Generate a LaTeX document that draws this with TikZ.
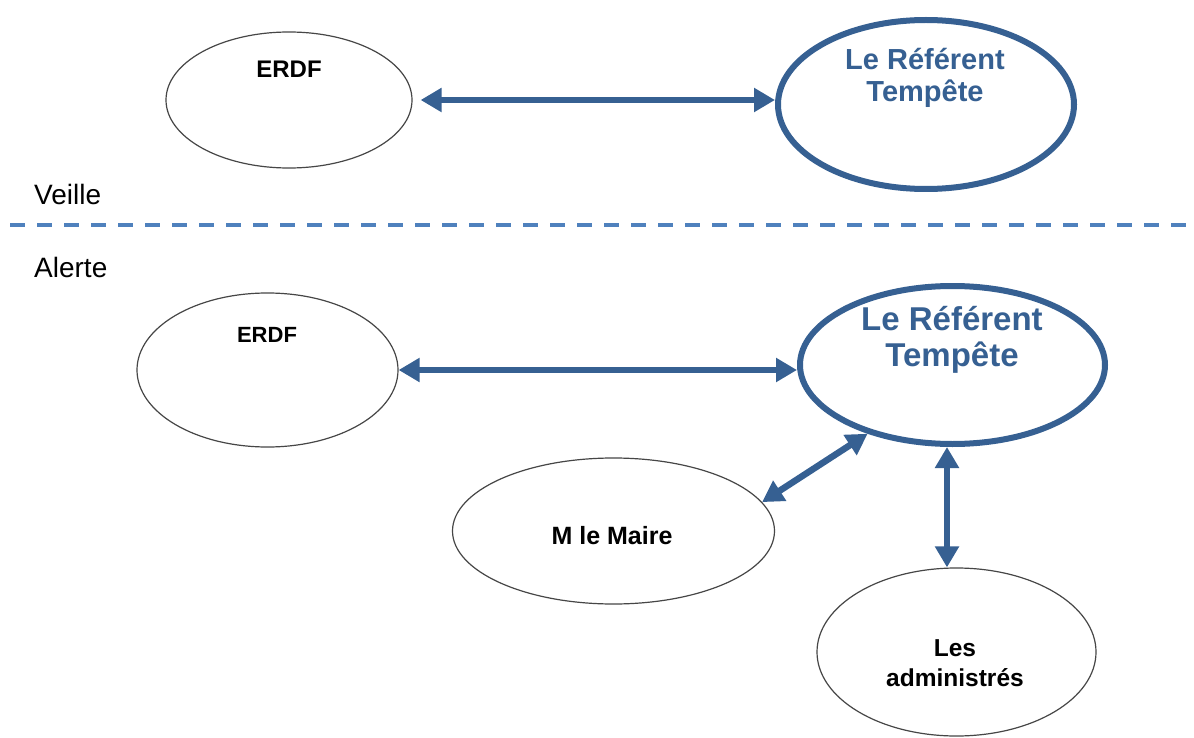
\documentclass[tikz,border=0pt]{standalone}
\usepackage{fontspec}
\setmainfont{Liberation Sans}
\usetikzlibrary{shapes.geometric,arrows.meta}
\definecolor{refblue}{RGB}{54,96,146}
\definecolor{dashblue}{RGB}{79,129,189}
\definecolor{outl}{RGB}{70,70,70}
\tikzset{
  thinell/.style={ellipse,draw=outl,line width=1.2pt,fill=white,inner sep=0pt},
  thickell/.style={ellipse,draw=refblue,line width=6pt,fill=white,inner sep=0pt},
  arr/.style={draw=refblue,line width=6.5pt,{Triangle[length=21pt,width=23pt]}-{Triangle[length=21pt,width=23pt]}},
  lbl/.style={inner sep=0pt,font=\bfseries,text=black,align=center},
  reflbl/.style={inner sep=0pt,font=\bfseries,text=refblue,align=center},
  phase/.style={inner sep=0pt,anchor=base west,text=black}
}
\begin{document}
\begin{tikzpicture}[x=1pt,y=-1pt]
\fill[white] (0,0) rectangle (1194,738);
\useasboundingbox (0,0) rectangle (1194,738);
% ellipses
\node[thinell,minimum width=246pt,minimum height=136pt] (erdfA) at (289,100) {};
\node[thickell,minimum width=296pt,minimum height=169pt] (refA) at (926,104.5) {};
\node[thinell,minimum width=261pt,minimum height=154pt] (erdfB) at (267.5,370) {};
\node[thickell,minimum width=305pt,minimum height=158pt] (refB) at (952.5,365) {};
\node[thinell,minimum width=322pt,minimum height=146pt] (maire) at (613.5,531) {};
\node[thinell,minimum width=279pt,minimum height=168pt] (adm) at (956.5,652) {};
% texts
\node[lbl,anchor=base,font=\bfseries\fontsize{24}{28}\selectfont] (tErdfA) at (289,78) {ERDF};
\node[reflbl,anchor=north,font=\bfseries\fontsize{29}{32}\selectfont] (tRefA) at (925,48) {Le Référent\\Tempête};
\node[lbl,anchor=base,font=\bfseries\fontsize{22}{26}\selectfont] (tErdfB) at (267,342) {ERDF};
\node[reflbl,anchor=north,font=\bfseries\fontsize{33}{36}\selectfont] (tRefB) at (952,306) {Le Référent\\Tempête};
\node[lbl,anchor=base,font=\bfseries\fontsize{25}{28}\selectfont] (tMaire) at (612,544) {M le Maire};
\node[lbl,anchor=north,font=\bfseries\fontsize{24.5}{30}\selectfont] (tAdm) at (955,639) {Les\\administrés};
% phases
\node[phase,font=\fontsize{28}{32}\selectfont] (veille) at (34,205) {Veille};
\node[phase,font=\fontsize{28}{32}\selectfont] (alerte) at (34,277) {Alerte};
\coordinate (dL) at (10,225);
\coordinate (dR) at (1194,225);
\draw[dashblue,line width=4pt,dash pattern=on 15pt off 12pt] (dL) -- (dR);
% connectors
\draw[arr] ([xshift=8pt]erdfA.east) -- (refA.west |- erdfA.east);
\draw[arr] (erdfB.east) -- (refB.west |- erdfB.east);
\draw[arr] (maire.11) -- (refB.219);
\draw[arr] ([xshift=-5.5pt]refB.south) -- ([xshift=-5.5pt]refB.south |- adm.north);
\end{tikzpicture}
\end{document}
